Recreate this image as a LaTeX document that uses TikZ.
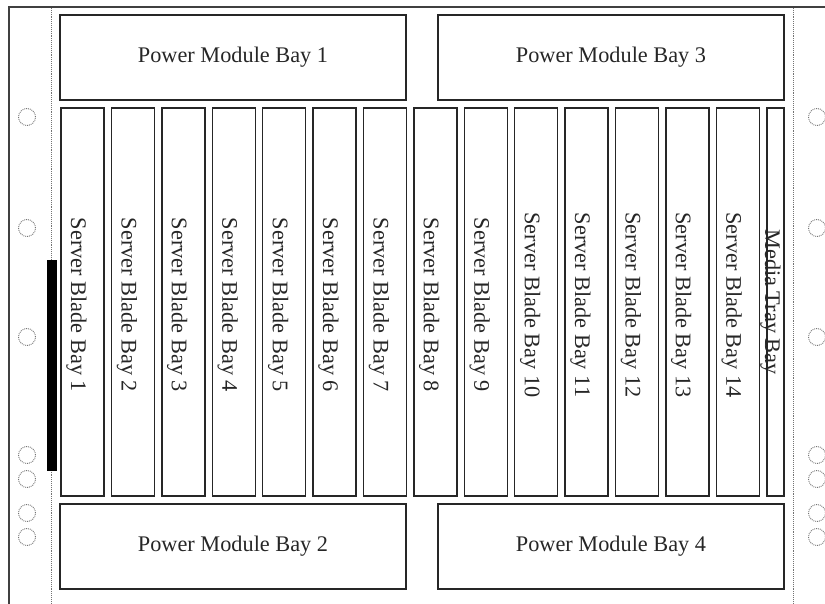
\documentclass[tikz,border=0pt]{standalone}
\usepackage{fontspec}
\setmainfont{Liberation Serif}
\begin{document}
\begin{tikzpicture}[x=1pt,y=-1pt,
  bay/.style={draw=black!85, line width=1.4pt, rectangle, inner sep=0pt},
  bladebox/.style={draw=black!85, line width=1.4pt, rectangle, inner sep=0pt, minimum width=43pt, minimum height=388pt},
  bladetext/.style={rotate=-90, inner sep=0pt, font=\fontsize{22.3}{26}\selectfont, text=black!85},
  baytext/.style={font=\fontsize{22.3}{26}\selectfont, text=black!85},
  hole/.style={circle, draw=black!55, densely dotted, line width=0.9pt, minimum size=17pt, inner sep=0pt},
  rail/.style={draw=black!55, densely dotted, line width=0.9pt},
  frame/.style={draw=black!75, line width=1.3pt}
]
\useasboundingbox (0,0) rectangle (825,604);
% frame
\coordinate (ftr) at (825,7);
\coordinate (ftl) at (9,7);
\coordinate (fbl) at (9,604);
\draw[frame] (ftr) -- (ftl) -- (fbl);
% rails
\coordinate (lrt) at (51,8);
\coordinate (lrb) at (51,604);
\coordinate (rrt) at (793,8);
\coordinate (rrb) at (793,604);
\draw[rail] (lrt) -- (lrb);
\draw[rail] (rrt) -- (rrb);
% black bar
\node[fill=black, minimum width=10pt, minimum height=211pt, inner sep=0pt] (bar) at (52,365.5) {};
% power bays
\node[bay, minimum width=346pt, minimum height=85pt] (pm1) at (233,57.5) {};
\node[baytext] (pm1t) at (pm1.center) {Power Module Bay 1};
\node[bay, minimum width=346pt, minimum height=85pt] (pm3) at (611,57.5) {};
\node[baytext] (pm3t) at (pm3.center) {Power Module Bay 3};
\node[bay, minimum width=346pt, minimum height=85pt] (pm2) at (233,546.5) {};
\node[baytext] (pm2t) at (pm2.center) {Power Module Bay 2};
\node[bay, minimum width=346pt, minimum height=85pt] (pm4) at (611,546.5) {};
\node[baytext] (pm4t) at (pm4.center) {Power Module Bay 4};
% blades
\foreach \i in {1,...,14}{
  \pgfmathsetmacro{\cx}{61+(\i-1)*50.4+21.5}
  \node[bladebox] (b\i) at (\cx,302) {};
  \node[bladetext] (b\i t) at ([xshift=-6pt,yshift=-3pt]b\i.center) {Server Blade Bay \i};
}
\node[bladebox, minimum width=17pt] (mt) at (775.5,302) {};
\node[bladetext] (mtt) at ([xshift=-5pt]mt.center) {Media Tray Bay};
% holes
\foreach \y [count=\k] in {117,228,337,455,479,513,537}{
  \node[hole] (hl\k) at (27,\y) {};
  \node[hole] (hr\k) at (817,\y) {};
}
\end{tikzpicture}
\end{document}
